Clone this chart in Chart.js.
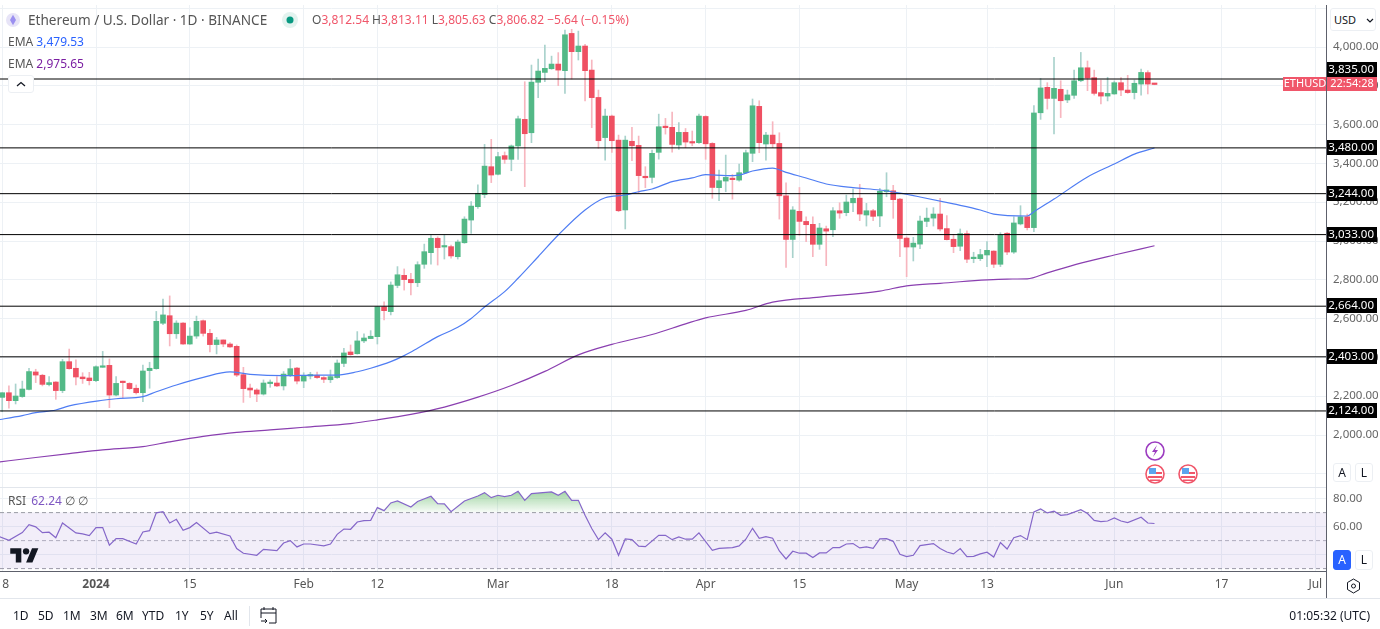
<!DOCTYPE html>
<html>
<head>
<meta charset="utf-8">
<title>ETHUSD</title>
<script src="https://cdn.jsdelivr.net/npm/chart.js@4"></script>
<style>
  html, body { margin: 0; padding: 0; background: #fff; }
  body { width: 1380px; height: 629px; overflow: hidden; position: relative; font-family: "Noto Sans", sans-serif; color: #555; }
  canvas { position: absolute; left: 0; }
  #priceChart { top: 0; }
  #rsiChart { top: 487px; }
  .t { position: absolute; white-space: nowrap; font-size: 12px; line-height: 16px; }
  .rule { position: absolute; }
  .btn { position: absolute; box-sizing: border-box; background: #fff; border: 1px solid #eceff3; border-radius: 3px; text-align: center; font-size: 12px; color: #131722; }
  .red { color: #f0566a; }
  .range span { position: absolute; top: 0; }
</style>
</head>
<body>
<canvas id="priceChart" width="1380" height="487"></canvas>
<canvas id="rsiChart" width="1380" height="111"></canvas>

<div class="rule" style="left:0;top:487px;width:1326px;height:1px;background:#e2e6ec"></div>
<div class="rule" style="left:1326px;top:5px;width:1px;height:593px;background:#5d606b"></div>
<div class="rule" style="left:0;top:598px;width:1380px;height:1px;background:#e2e6ec"></div>

<svg style="position:absolute;left:6px;top:13px" width="14" height="14" viewBox="0 0 14 14"><circle cx="7" cy="7" r="7" fill="#e7e4f7"/><path d="M7 1.8 10 7 7 12.2 4 7z" fill="#9b8ff0"/></svg>
<div class="t" style="left:28px;top:12px;font-size:13.6px">Ethereum / U.S. Dollar · 1D · BINANCE</div>
<svg style="position:absolute;left:282px;top:12px" width="16" height="16"><circle cx="8" cy="8" r="8" fill="#e3f3ef"/><circle cx="8" cy="8" r="3.5" fill="#089981"/></svg>
<div class="t" style="left:312px;top:12px">O<span class="red">3,812.54</span> H<span class="red">3,813.11</span> L<span class="red">3,805.63</span> C<span class="red">3,806.82</span> <span class="red">−5.64 (−0.15%)</span></div>
<div class="t" style="left:8px;top:34px">EMA <span style="color:#2962ff">3,479.53</span></div>
<div class="t" style="left:8px;top:56px">EMA <span style="color:#7b1fa2">2,975.65</span></div>
<div class="btn" style="left:8px;top:75px;width:26px;height:18px"><svg width="10" height="6" style="margin-top:5px;display:block;margin-left:7px"><path d="M1 5 5 1.5 9 5" fill="none" stroke="#131722" stroke-width="1.3"/></svg></div>
<div class="t" style="left:8px;top:493px">RSI <span style="color:#7e57c2;margin-left:2px">62.24</span> ∅ ∅</div>
<svg style="position:absolute;left:10px;top:545px" width="29" height="19" viewBox="0 0 36 24"><path d="M14 22H7V11H0V4h14v18zM28 22h-8l7.5-18h8L28 22z" fill="#131722"/><circle cx="20" cy="8" r="4" fill="#131722"/></svg>

<svg style="position:absolute;left:1145px;top:441px" width="20" height="20"><circle cx="10" cy="10" r="9" fill="#fff" stroke="#9c3cc0" stroke-width="1.6"/><path d="M12 4 7 11h3l-2 5 5-7h-3z" fill="#9c3cc0"/></svg>
<svg style="position:absolute;left:1145px;top:464px" width="20" height="20"><circle cx="10" cy="10" r="9" fill="#fff" stroke="#f0566a" stroke-width="1.6"/><path d="M3 12h14v2H3zM4 8h13v2H4zM5 15.5h10v1.5H5z" fill="#f0566a"/><path d="M4 4h7v6H4z" fill="#5ba4ee"/></svg>
<svg style="position:absolute;left:1178px;top:464px" width="20" height="20"><circle cx="10" cy="10" r="9" fill="#fff" stroke="#f0566a" stroke-width="1.6"/><path d="M3 12h14v2H3zM4 8h13v2H4zM5 15.5h10v1.5H5z" fill="#f0566a"/><path d="M4 4h7v6H4z" fill="#5ba4ee"/></svg>

<div class="btn" style="left:1330px;top:8px;width:46px;height:23px;line-height:21px;text-align:left;padding-left:3px;font-size:11px">USD<svg width="8" height="5" style="position:absolute;left:35px;top:9px"><path d="M1 1 4 4 7 1" fill="none" stroke="#131722" stroke-width="1.2"/></svg></div>
<div class="btn" style="left:1333px;top:463px;width:18px;height:19px;line-height:17px">A</div>
<div class="btn" style="left:1355px;top:463px;width:18px;height:19px;line-height:17px">L</div>
<div class="btn" style="left:1333px;top:550px;width:18px;height:20px;line-height:18px;background:#2962ff;border-color:#2962ff;color:#fff">A</div>
<div class="btn" style="left:1355px;top:550px;width:18px;height:20px;line-height:18px">L</div>
<svg style="position:absolute;left:1346px;top:578px" width="15" height="16" viewBox="0 0 15 16"><path d="M7.5 1 13.5 4.5v7L7.5 15l-6-3.500v-7z" fill="none" stroke="#131722"/><circle cx="7.500" cy="8" r="2" fill="none" stroke="#131722"/></svg>

<div class="range t" style="left:0;top:608px;color:#131722">
  <span style="left:13px">1D</span><span style="left:38px">5D</span><span style="left:63px">1M</span><span style="left:90px">3M</span><span style="left:116px">6M</span><span style="left:142px">YTD</span><span style="left:175px">1Y</span><span style="left:200px">5Y</span><span style="left:224px">All</span>
</div>
<div class="rule" style="left:249px;top:606px;width:1px;height:20px;background:#e2e6ec"></div>
<svg style="position:absolute;left:260px;top:606px" width="18" height="19" viewBox="0 0 18 19"><path d="M4 1v3M13 1v3M1 3h15v14h-7M1 7h15M1 3v9" fill="none" stroke="#131722"/><path d="M1 15h6M5 13l2 2-2 2" fill="none" stroke="#131722"/></svg>
<div class="t" style="right:10px;top:608px;color:#131722">01:05:32 (UTC)</div>

<script>
// candles, Dec 18 2023 = day 0, one per day through Jun 7 2024
const opens = [2194,2218,2177,2198,2235,2325,2308,2260,2273,2229,2378,2344,2299,2294,2280,2349,2359,2206,2273,2266,2241,2218,2332,2342,2576,2615,2522,2577,2469,2510,2589,2524,2466,2490,2469,2457,2311,2242,2232,2211,2265,2268,2253,2311,2345,2278,2304,2308,2296,2285,2296,2369,2428,2419,2485,2497,2507,2661,2636,2771,2823,2802,2785,2880,2940,3014,2969,2971,2919,2991,3108,3177,3239,3383,3344,3440,3421,3490,3627,3558,3818,3869,3888,3912,3878,4070,3976,4005,3881,3740,3533,3644,3520,3160,3514,3493,3330,3328,3457,3592,3586,3495,3560,3512,3507,3642,3503,3275,3309,3324,3314,3352,3452,3694,3500,3546,3503,3233,3008,3153,3101,3086,2983,3063,3058,3156,3146,3197,3221,3134,3156,3129,3254,3259,3216,3015,2969,2984,3101,3118,3139,3064,3009,2973,3038,2909,2909,2928,2948,2880,3040,2943,3088,3125,3069,3661,3792,3735,3782,3727,3751,3826,3893,3842,3765,3747,3758,3816,3778,3765,3809,3868,3812.54];
const highs = [2218,2253,2263,2278,2344,2339,2313,2301,2275,2390,2443,2387,2321,2323,2356,2431,2392,2301,2278,2270,2258,2361,2375,2637,2701,2717,2589,2579,2553,2613,2593,2545,2503,2490,2476,2464,2349,2263,2239,2284,2284,2301,2327,2390,2349,2321,2323,2325,2301,2335,2387,2447,2464,2533,2521,2538,2661,2686,2789,2868,2856,2833,2893,2984,3031,3022,3031,2979,3005,3125,3203,3289,3498,3524,3457,3459,3495,3644,3821,3907,3938,4010,3953,3971,4087,4091,4082,4014,3933,3778,3680,3649,3546,3541,3586,3541,3383,3469,3654,3632,3665,3611,3580,3567,3654,3646,3507,3366,3443,3343,3397,3469,3732,3723,3560,3615,3558,3300,3177,3276,3125,3125,3091,3077,3172,3197,3237,3268,3292,3194,3163,3271,3352,3287,3220,3022,3019,3129,3170,3172,3220,3131,3034,3062,3052,2942,2957,2997,2950,3043,3043,3125,3182,3139,3698,3838,3816,3947,3826,3778,3881,3972,3928,3881,3830,3844,3825,3842,3854,3830,3886,3878,3813.11];
const lows = [2120,2138,2160,2194,2232,2270,2253,2253,2184,2218,2339,2258,2266,2258,2275,2349,2141,2201,2191,2235,2211,2172,2241,2339,2569,2459,2498,2467,2467,2498,2510,2428,2418,2455,2452,2301,2168,2194,2172,2206,2246,2249,2232,2301,2263,2244,2289,2292,2270,2270,2292,2352,2411,2417,2476,2497,2469,2593,2619,2759,2747,2722,2765,2859,2880,2876,2907,2911,2907,2988,3039,3168,3223,3301,3340,3400,3362,3421,3280,3507,3739,3821,3885,3801,3761,3835,3933,3722,3584,3478,3417,3457,3151,3062,3414,3249,3275,3300,3422,3551,3458,3472,3481,3491,3503,3421,3220,3208,3254,3216,3309,3348,3409,3455,3417,3481,3113,2864,2914,3029,2996,2919,2957,2873,3022,3117,3130,3151,3105,3077,3105,3074,3228,3117,2919,2816,2897,2960,3074,3077,3052,3005,2940,2950,2888,2888,2899,2868,2863,2868,2930,2936,3083,3057,3048,3627,3680,3552,3636,3713,3735,3821,3775,3752,3706,3722,3756,3749,3761,3732,3752,3758,3805.63];
const closes = [2218,2177,2201,2237,2327,2309,2261,2270,2229,2378,2342,2299,2290,2280,2352,2356,2206,2266,2270,2239,2218,2330,2344,2586,2619,2522,2577,2469,2510,2586,2524,2466,2490,2469,2454,2309,2239,2232,2211,2268,2268,2253,2314,2342,2278,2306,2308,2296,2287,2301,2371,2423,2414,2485,2500,2509,2661,2641,2773,2826,2801,2785,2878,2945,3014,2966,2972,2923,2995,3113,3180,3246,3386,3340,3435,3421,3490,3630,3553,3819,3876,3890,3912,3881,4063,3976,4005,3878,3739,3517,3644,3517,3156,3520,3491,3337,3326,3452,3589,3584,3498,3560,3510,3505,3644,3501,3276,3311,3328,3316,3352,3455,3697,3507,3546,3501,3233,3008,3160,3101,3084,2983,3067,3051,3156,3144,3201,3220,3139,3156,3127,3257,3263,3213,3013,2969,2989,3103,3118,3139,3062,3007,2971,3038,2906,2912,2930,2952,2880,3031,2943,3093,3125,3069,3660,3789,3735,3787,3723,3753,3826,3893,3840,3761,3747,3761,3816,3778,3765,3813,3869,3809,3806.82];

const ema50Days = [-1,3,5,8,10,15,17,21,23,26,30,34,37,42,47,50,53,55,58,60,62,65,68,70,72,75,77,80,83,87,90,93,95,97,100,103,105,108,110,112,115,117,120,123,127,131,134,137,142,146,148,153,154,157,162,166,169,172];
const ema50Values = [2076,2100,2115,2129,2150,2179,2187,2198,2223,2258,2297,2325,2313,2306,2309,2309,2326,2344,2378,2409,2447,2507,2555,2601,2660,2739,2808,2919,3031,3160,3223,3237,3254,3268,3306,3325,3342,3337,3340,3361,3376,3354,3325,3294,3275,3263,3247,3227,3191,3160,3139,3129,3151,3216,3330,3397,3448,3479.53];
const ema200Days = [-1,5,10,15,21,25,30,35,40,45,52,56,61,66,71,76,81,86,91,97,102,105,111,115,122,131,135,140,150,153,156,161,166,172];
const ema200Values = [1859,1884,1904,1923,1940,1965,1993,2014,2026,2040,2059,2078,2106,2144,2195,2255,2328,2413,2467,2518,2573,2604,2642,2685,2711,2742,2769,2782,2804,2805,2836,2886,2928,2975.65];

const rsiDays = [-1,1,3,4,5,6,7,8,9,11,12,13,14,15,16,17,18,20,21,22,23,24,25,26,27,28,29,31,32,34,35,36,38,39,41,42,43,44,45,46,48,49,50,51,52,53,54,55,56,57,58,59,61,62,64,65,66,67,69,71,72,73,74,75,76,77,78,79,82,83,84,85,86,87,88,89,90,91,92,93,94,95,96,98,99,100,101,102,103,104,106,107,109,110,111,112,113,114,115,116,117,118,119,120,121,122,123,124,125,126,127,128,129,130,131,132,133,134,135,136,137,138,139,140,141,142,143,144,145,146,147,148,149,150,151,152,153,154,155,156,157,158,159,161,162,163,164,165,166,167,168,170,171,172];
const rsiValues = [54,50.2,55.7,61.4,59.8,55.7,56,52.1,62.6,55.5,54.8,53.6,59.3,59.3,46.7,51.4,51.4,47.6,56.2,57.1,69.8,70.7,62.6,65.2,57.4,59.3,62.9,55,56,53.3,44.3,41,39.5,43.8,42.9,48.3,50,45.5,47.6,47.6,46.2,47.6,54.5,58.3,58.1,63.3,64.3,64.5,73.6,71.4,76.9,78.3,74,77.9,81.7,76.4,76.2,70.7,78.3,81.9,84.3,80.7,82.4,81.4,82.4,85.2,78.8,83.6,84.8,82.4,85.2,78.8,78.8,68.1,58.6,50.7,55.5,51,39.5,51.2,50.7,46,45.7,53.8,53.8,50.7,52.6,51,51,55.5,43.1,44.5,45,46.2,51,58.8,51.7,52.9,51.7,42.6,36.9,42.4,41,41,37.9,41.2,41.2,45,45,47.6,47.9,44.8,45.5,44.5,51.2,51.4,49.5,40.2,38.6,39.5,46.4,47.1,47.9,44.3,41.9,40.5,44.3,38.6,38.8,40.5,41.7,38.3,48.6,44,52.1,53.6,50.7,70.5,72.6,69.8,71,68.1,68.6,72.1,69.3,64.5,63.6,64,66.2,64,62.9,66.7,62.6,62.24];

const levels = [3835,3480,3244,3033,2664,2403,2124];
const priceTicks = [1800,2000,2200,2400,2600,2800,3000,3200,3400,3600,3800,4000,4200];
const rsiTicks = [40,60,80];
const rsiBands = [70,50,30];
const lastPrice = closes[closes.length - 1];

const tickDays = [0,14,28,45,56,74,91,105,119,135,147,166,182,196];
const tickLabels = ['18','2024','15','Feb','12','Mar','18','Apr','15','May','13','Jun','17','Jul'];

// x window of the picture, in days
const xMin = -0.33, xMax = 197.6;
const FONT = '"Noto Sans", sans-serif';
const GRID = '#edf1f5';
const UP = '#53b987', DOWN = '#ef5062';

const pairs = (xs, ys) => xs.map((x, i) => ({x: x, y: ys[i]}));
const flat = y => [{x: xMin, y: y}, {x: xMax, y: y}];
const money = v => v.toLocaleString('en-US', {minimumFractionDigits: 2, maximumFractionDigits: 2});

function xScale(showLabels) {
  return {
    type: 'linear', min: xMin, max: xMax, offset: false,
    grid: {color: GRID, offset: false, drawTicks: false},
    border: showLabels ? {color: '#5d606b'} : {display: false},
    afterBuildTicks: s => { s.ticks = tickDays.map(d => ({value: d})); },
    afterFit: s => { s.height = showLabels ? 27 : 0; s.paddingLeft = 0; s.paddingRight = 0; },
    ticks: {
      display: showLabels, autoSkip: false, maxRotation: 0, padding: 6, color: '#555',
      font: c => ({family: FONT, size: 12, weight: c.tick && c.tick.value === 14 ? 'bold' : 'normal'}),
      callback: v => tickLabels[tickDays.indexOf(v)]
    }
  };
}

function yScale(min, max, list, fmt) {
  return {
    position: 'right', min: min, max: max,
    grid: {color: GRID, drawTicks: false},
    border: {display: false},
    afterBuildTicks: s => { s.ticks = list.map(v => ({value: v})); },
    afterFit: s => { s.width = 54; s.paddingTop = 0; s.paddingBottom = 0; },
    ticks: {color: '#666', padding: 7, crossAlign: 'near', font: {family: FONT, size: 11.5}, callback: fmt}
  };
}

// black tags for the levels and the red last price tags on the axis
const priceTags = {
  id: 'priceTags',
  afterDraw(chart) {
    const c = chart.ctx, y = chart.scales.y, left = chart.chartArea.right + 1;
    c.save();
    c.textBaseline = 'middle';
    const p = Math.round(y.getPixelForValue(lastPrice));
    c.fillStyle = '#f0566a';
    c.fillRect(left - 44, p - 7, 94, 14);
    c.fillStyle = '#fff';
    c.textAlign = 'center';
    c.font = '11px ' + FONT;
    c.fillText('ETHUSD', left - 22, p);
    c.fillText('22:54:28', left + 25, p);
    c.font = '11.5px ' + FONT;
    levels.forEach(l => {
      let q = Math.round(y.getPixelForValue(l));
      if (Math.abs(q - p) < 14) q = p - 14; // tag moves out of the way of the price tag
      c.fillStyle = '#000';
      c.fillRect(left, q - 8, 50, 15);
      c.fillStyle = '#fff';
      c.textAlign = 'right';
      c.fillText(money(l), left + 47, q);
    });
    c.restore();
  }
};

new Chart(document.querySelector('#priceChart'), {
  type: 'bar',
  plugins: [priceTags],
  data: {
    datasets: [
      {
        label: 'wicks', order: 5, grouped: false, barThickness: 1,
        data: highs.map((h, i) => ({x: i, y: [lows[i], h]})),
        backgroundColor: closes.map((c, i) => c >= opens[i] ? '#a9d2cc' : '#f7b6bf')
      },
      {
        label: 'candles', order: 4, grouped: false, barThickness: 5, minBarLength: 1.5,
        data: opens.map((o, i) => ({x: i, y: [o, closes[i]]})),
        backgroundColor: closes.map((c, i) => c >= opens[i] ? UP : DOWN)
      },
      {type: 'line', label: 'EMA 50', order: 3, data: pairs(ema50Days, ema50Values), borderColor: '#4f7df3', borderWidth: 1.2, pointRadius: 0, cubicInterpolationMode: 'monotone'},
      {type: 'line', label: 'EMA 200', order: 3, data: pairs(ema200Days, ema200Values), borderColor: '#8a3fb0', borderWidth: 1.2, pointRadius: 0, cubicInterpolationMode: 'monotone'}
    ].concat(levels.map(l => ({type: 'line', label: String(l), order: 2, data: flat(l), borderColor: '#000', borderWidth: 1, pointRadius: 0})))
  },
  options: {
    responsive: false, animation: false,
    layout: {padding: {top: 5, left: 0, right: 0, bottom: 0}},
    plugins: {legend: {display: false}, tooltip: {enabled: false}},
    scales: {
      x: xScale(false),
      y: yScale(1732, 4216.5, priceTicks, v => (v === 1800 || v === 4200) ? '' : money(v))
    }
  }
});

const rsiCanvas = document.querySelector('#rsiChart');
const overbought = rsiCanvas.getContext('2d').createLinearGradient(0, 3, 0, 26);
overbought.addColorStop(0, 'rgba(76,175,80,0.55)');
overbought.addColorStop(1, 'rgba(76,175,80,0.03)');

new Chart(rsiCanvas, {
  type: 'line',
  data: {
    datasets: [
      {
        label: 'RSI', order: 1, data: pairs(rsiDays, rsiValues), borderColor: '#8567c9', borderWidth: 1.2, pointRadius: 0,
        fill: {value: 70, above: overbought, below: 'rgba(0,0,0,0)'}
      },
      {label: 'upper', order: 2, data: flat(rsiBands[0]), borderColor: '#9a9ca5', borderWidth: 1, borderDash: [4, 3], pointRadius: 0, fill: {target: {value: rsiBands[2]}, above: 'rgba(126,87,194,0.1)', below: 'rgba(126,87,194,0.1)'}},
      {label: 'middle', order: 2, data: flat(rsiBands[1]), borderColor: '#b4b5bc', borderWidth: 1, borderDash: [4, 3], pointRadius: 0},
      {label: 'lower', order: 2, data: flat(rsiBands[2]), borderColor: '#9a9ca5', borderWidth: 1, borderDash: [4, 3], pointRadius: 0}
    ]
  },
  options: {
    responsive: false, animation: false,
    layout: {padding: 0},
    plugins: {legend: {display: false}, tooltip: {enabled: false}},
    scales: {
      x: xScale(true),
      y: yScale(28.3, 88.3, rsiTicks, v => v === 40 ? '' : v.toFixed(2))
    }
  }
});
</script>
</body>
</html>
